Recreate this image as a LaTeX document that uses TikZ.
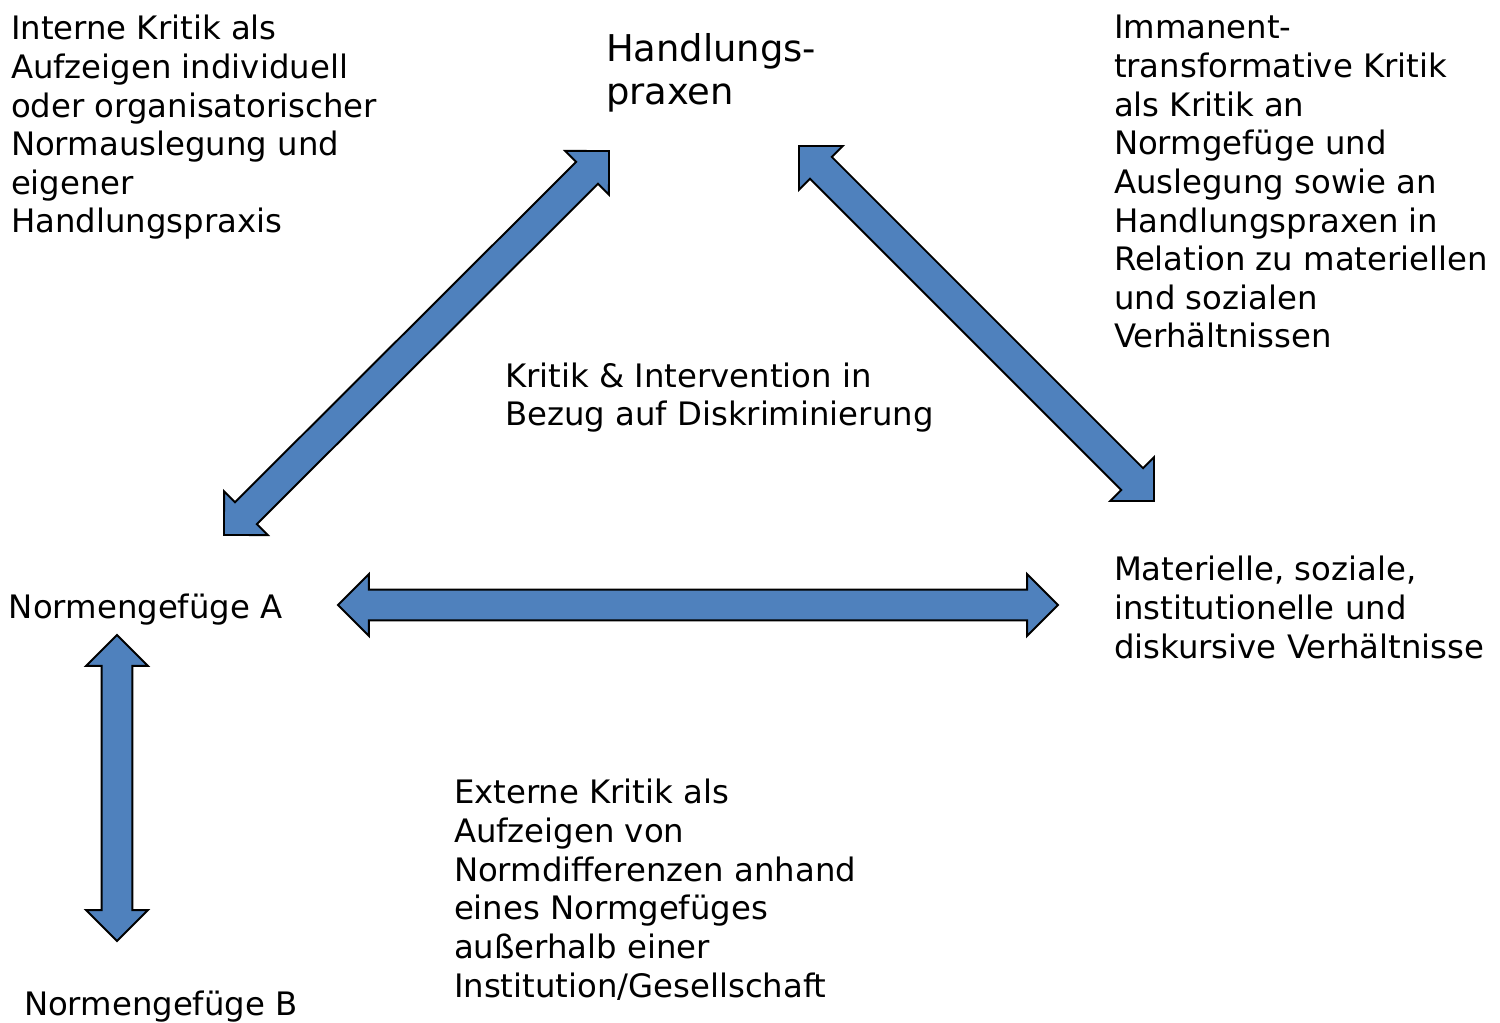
\documentclass[tikz,border=0pt]{standalone}
\usepackage{fontspec}
\setmainfont{DejaVu Sans}
\usetikzlibrary{calc}
\definecolor{arrowblue}{HTML}{4F81BD}
\newcommand{\blockarrow}[2]{%
  \coordinate (ba) at ($(#1)!17.6pt!(#2)$);
  \coordinate (bb) at ($(#2)!17.6pt!(#1)$);
  \draw[blockarrowstyle]
    (#1) -- ($(ba)!17.6pt!90:(#2)$) -- ($(ba)!8.8pt!90:(#2)$)
    -- ($(bb)!8.8pt!-90:(#1)$) -- ($(bb)!17.6pt!-90:(#1)$) -- (#2)
    -- ($(bb)!17.6pt!90:(#1)$) -- ($(bb)!8.8pt!90:(#1)$)
    -- ($(ba)!8.8pt!-90:(#2)$) -- ($(ba)!17.6pt!-90:(#2)$) -- cycle;
}
\begin{document}
\begin{tikzpicture}[x=0.02cm,y=-0.02cm,
  blockarrowstyle/.style={fill=arrowblue,draw=black,line width=1.1pt,line join=miter},
  txt/.style={anchor=base west,inner sep=0pt,outer sep=0pt,align=left,
    font=\fontsize{18.4}{22}\selectfont},
  bigtxt/.style={anchor=base west,inner sep=0pt,outer sep=0pt,align=left,
    font=\fontsize{21}{25}\selectfont}]
\useasboundingbox (0,0) rectangle (1500,1023);
% base anchor = baseline of the last line
\node[txt] (intern) at (11,233) {Interne Kritik als\\Aufzeigen individuell\\oder organisatorischer\\Normauslegung und\\eigener\\Handlungspraxis};
\node[bigtxt] (hp) at (606,105) {Handlungs-\\praxen};
\node[txt] (imm) at (1114,348) {Immanent-\\transformative Kritik\\als Kritik an\\Normgefüge und\\Auslegung sowie an\\Handlungspraxen in\\Relation zu materiellen\\und sozialen\\Verhältnissen};
\node[txt] (ki) at (505,426) {Kritik \& Intervention in\\Bezug auf Diskriminierung};
\node[txt] (nga) at (9,618) {Normengefüge A};
\node[txt] (mat) at (1114,658) {Materielle, soziale,\\institutionelle und\\diskursive Verhältnisse};
\node[txt] (ext) at (454,997) {Externe Kritik als\\Aufzeigen von\\Normdifferenzen anhand\\eines Normgefüges\\außerhalb einer\\Institution/Gesellschaft};
\node[txt] (ngb) at (24,1015) {Normengefüge B};
% arrow tips
\coordinate (d1a) at (224,535);
\coordinate (d1b) at (609,151);
\coordinate (d2a) at (799,146);
\coordinate (d2b) at (1154,501);
\coordinate (ha) at (338,605);
\coordinate (hb) at (1058,605);
\coordinate (va) at (117,635);
\coordinate (vb) at (117,941);
\blockarrow{d1a}{d1b}
\blockarrow{d2a}{d2b}
\blockarrow{ha}{hb}
\blockarrow{va}{vb}
\end{tikzpicture}
\end{document}
